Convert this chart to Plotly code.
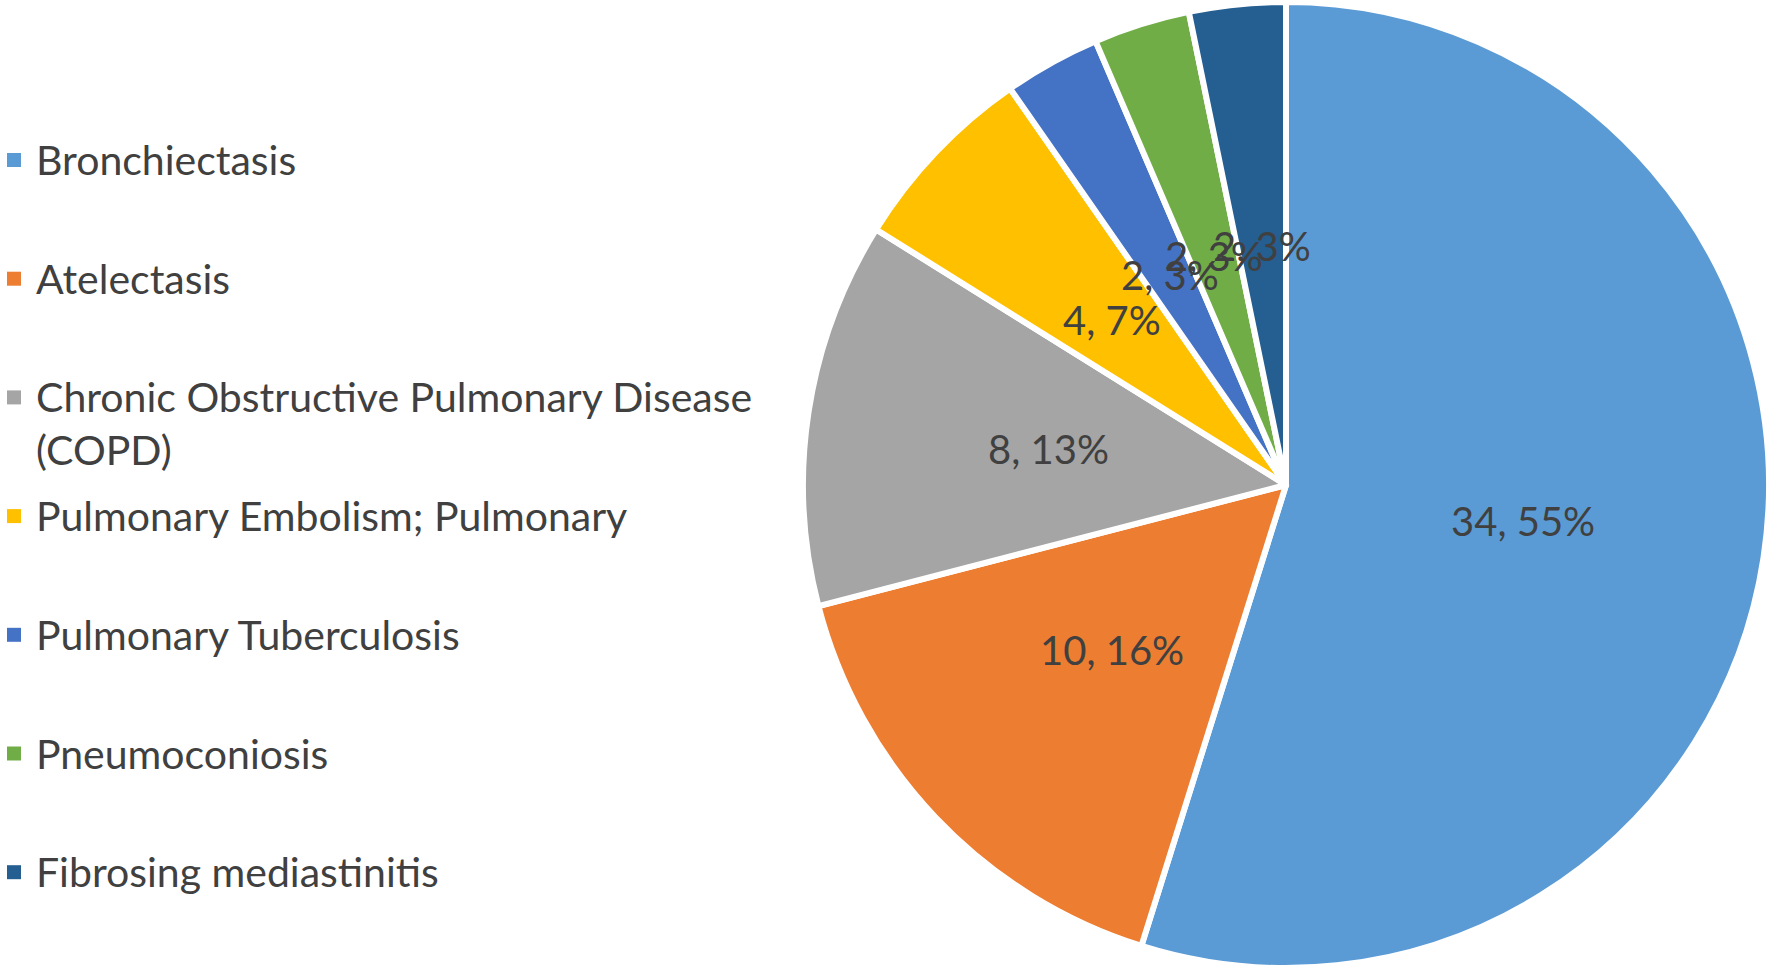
import math
import plotly.graph_objects as go

# data
diseases = [
    "Bronchiectasis",
    "Atelectasis",
    "Chronic Obstructive Pulmonary Disease<br>(COPD)",
    "Pulmonary Embolism; Pulmonary",
    "Pulmonary Tuberculosis",
    "Pneumoconiosis",
    "Fibrosing mediastinitis",
]
cases = [34, 10, 8, 4, 2, 2, 2]
shown_pct = [55, 16, 13, 7, 3, 3, 3]

colors = ["#5B9BD5", "#ED7D31", "#A5A5A5", "#FFC000", "#4472C4", "#70AD47", "#255E91"]

W, H = 1772, 971
FONT = "Lato"
TXT = "#404040"

# pie geometry in pixels
cx, cy, r = 1286, 485, 483
edge = 6

labels = [f"{c}, {p}%" for c, p in zip(cases, shown_pct)]

fig = go.Figure(go.Pie(
    labels=diseases,
    values=cases,
    textinfo="none",
    sort=False,
    direction="clockwise",
    rotation=0,
    marker=dict(colors=colors, line=dict(color="white", width=edge)),
    domain=dict(x=[(cx - r) / W, (cx + r) / W], y=[1 - (cy + r) / H, 1 - (cy - r) / H]),
    showlegend=False,
    hoverinfo="label+value+percent",
))

# data labels: halfway out along each slice's middle angle (like Excel's best fit)
total = sum(cases)
start = 0
label_r = (r - edge / 2) * 0.5
for val, txt in zip(cases, labels):
    mid = (start + val / 2) / total * 2 * math.pi
    start += val
    fig.add_annotation(
        x=(cx + label_r * math.sin(mid)) / W,
        y=1 - (cy - label_r * math.cos(mid)) / H,
        xref="paper", yref="paper",
        xanchor="center", yanchor="middle",
        text=txt, showarrow=False,
        font=dict(family=FONT, size=40, color=TXT),
    )

# legend drawn by hand so the spacing matches the original
top_px = 160
step_px = 118.7
for i, (name, col) in enumerate(zip(diseases, colors)):
    yc = top_px + i * step_px
    fig.add_shape(
        type="rect", xref="paper", yref="paper",
        x0=7 / W, x1=21 / W,
        y0=1 - (yc - 7) / H, y1=1 - (yc + 7) / H,
        fillcolor=col, line=dict(width=0),
    )
    fig.add_annotation(
        x=34 / W, y=1 - (yc - 27) / H,
        xref="paper", yref="paper",
        xanchor="left", yanchor="top",
        align="left",
        text=name, showarrow=False,
        font=dict(family=FONT, size=41, color=TXT),
    )

fig.update_layout(
    width=W, height=H,
    margin=dict(l=0, r=0, t=0, b=0),
    paper_bgcolor="white",
    plot_bgcolor="white",
)

# drop the browser's default body margin so the figure sits at the page corner
fig.write_html(
    "out.html",
    config={"displayModeBar": False},
    post_script="document.body.style.margin='0';",
)
